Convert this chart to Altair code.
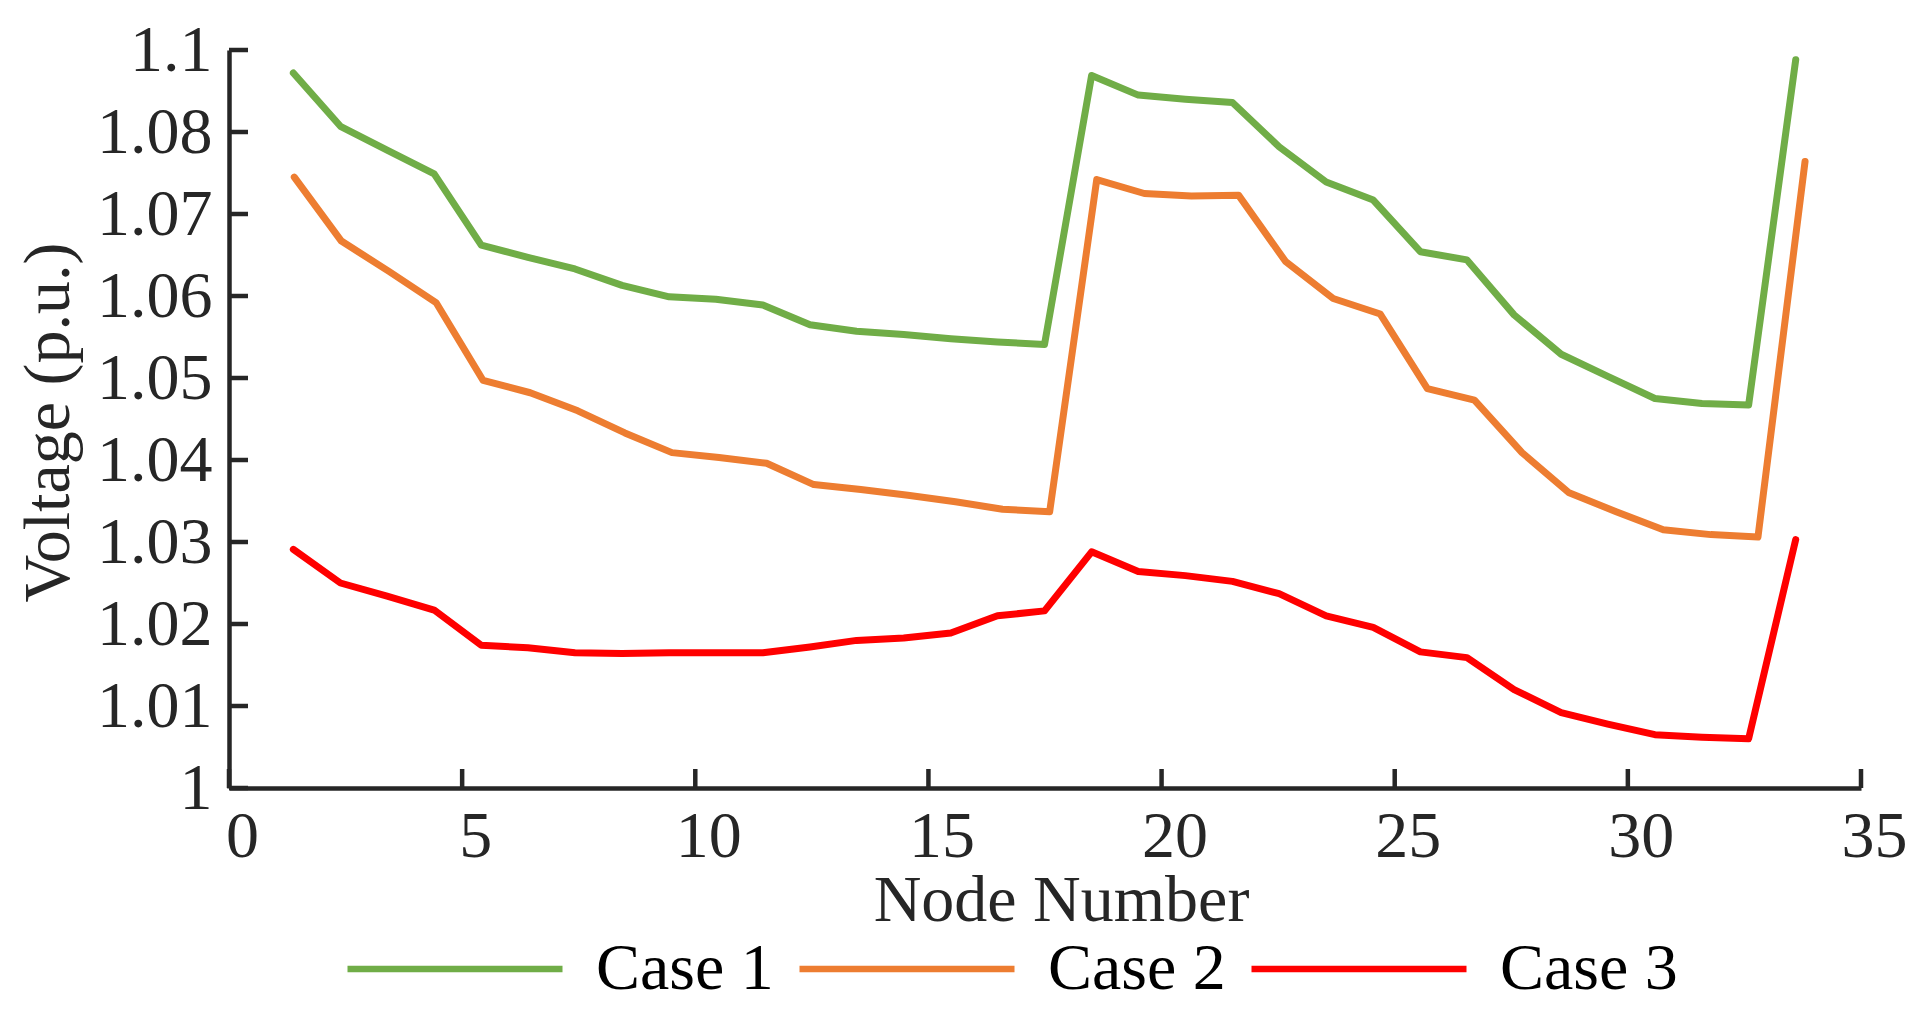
import altair as alt
import pandas as pd

# ---- data ----
cases = ["Case 1", "Case 2", "Case 3"]
colors = ["#70AD47", "#ED7D31", "#FF0000"]

# x positions of the plotted nodes (Case 1 and Case 3 share them)
x_case13 = [1.38, 2.39, 3.39, 4.40, 5.41, 6.41, 7.42, 8.43, 9.44, 10.44, 11.45,
            12.46, 13.46, 14.47, 15.48, 16.48, 17.49, 18.50, 19.50, 20.51, 21.52,
            22.52, 23.53, 24.54, 25.55, 26.55, 27.56, 28.57, 29.57, 30.58, 31.59,
            32.59, 33.60]
x_case2 = [1.40, 2.41, 3.43, 4.44, 5.45, 6.46, 7.48, 8.49, 9.50, 10.51, 11.53,
           12.54, 13.55, 14.56, 15.58, 16.59, 17.60, 18.61, 19.63, 20.64, 21.65,
           22.66, 23.68, 24.69, 25.70, 26.71, 27.73, 28.74, 29.75, 30.76, 31.78,
           32.79, 33.80]

v_case1 = [1.0872, 1.0807, 1.0778, 1.0749, 1.0662, 1.0647, 1.0633, 1.0613, 1.0599,
           1.0596, 1.0589, 1.0565, 1.0557, 1.0553, 1.0548, 1.0544, 1.0541, 1.0869,
           1.0845, 1.0840, 1.0836, 1.0782, 1.0739, 1.0717, 1.0654, 1.0644, 1.0577,
           1.0529, 1.0502, 1.0475, 1.0469, 1.0467, 1.0888]
v_case2 = [1.0745, 1.0667, 1.0630, 1.0592, 1.0497, 1.0482, 1.0460, 1.0433, 1.0409,
           1.0403, 1.0396, 1.0370, 1.0364, 1.0357, 1.0349, 1.0340, 1.0337, 1.0742,
           1.0725, 1.0722, 1.0723, 1.0642, 1.0597, 1.0578, 1.0487, 1.0473, 1.0409,
           1.0360, 1.0337, 1.0315, 1.0309, 1.0306, 1.0764]
v_case3 = [1.0291, 1.0250, 1.0234, 1.0217, 1.0174, 1.0171, 1.0165, 1.0164, 1.0165,
           1.0165, 1.0165, 1.0172, 1.0180, 1.0183, 1.0189, 1.0210, 1.0216, 1.0288,
           1.0264, 1.0259, 1.0252, 1.0237, 1.0210, 1.0196, 1.0166, 1.0159, 1.0120,
           1.0092, 1.0078, 1.0065, 1.0062, 1.0060, 1.0303]

x_ticks = [0, 5, 10, 15, 20, 25, 30, 35]
y_ticks = [1.00, 1.01, 1.02, 1.03, 1.04, 1.05, 1.06, 1.07, 1.08, 1.09]

rows = []
for case, xs, vs in [("Case 1", x_case13, v_case1), ("Case 2", x_case2, v_case2),
                     ("Case 3", x_case13, v_case3)]:
    for i, (xx, vv) in enumerate(zip(xs, vs)):
        rows.append({"case": case, "order": i, "x": xx, "v": vv})
df = pd.DataFrame(rows)
xt = pd.DataFrame({"t": x_ticks})
yt = pd.DataFrame({"t": y_ticks})

W, H = 1632, 738
AX = "#262626"
FONT = "Liberation Serif"
FS = 66

xscale = alt.Scale(domain=[0, 35], nice=False, zero=False)
yscale = alt.Scale(domain=[1.0, 1.09], nice=False, zero=False)

lines = alt.Chart(df).mark_line(strokeWidth=7, strokeCap="round", strokeJoin="round").encode(
    x=alt.X("x:Q", scale=xscale,
            axis=alt.Axis(values=x_ticks, title="Node Number", grid=False, ticks=False, tickSize=0,
                          labelPadding=16, labelOffset=13, labelBaseline="top",
                          domainColor=AX, domainWidth=4.5,
                          titleX=832, titleY=132, titleBaseline="alphabetic", titleAlign="center")),
    y=alt.Y("v:Q", scale=yscale,
            axis=alt.Axis(values=y_ticks, title="Voltage (p.u.)", grid=False, ticks=False, tickSize=0,
                          labelPadding=17, labelBaseline="middle", labelAlign="right",
                          labelExpr="datum.value > 1.085 ? '1.1' : (datum.value < 1.005 ? '1' : format(datum.value, '.2f'))",
                          domainColor=AX, domainWidth=4.5,
                          titleX=-161, titleY=372, titleAngle=270,
                          titleBaseline="alphabetic", titleAlign="center")),
    color=alt.Color("case:N", scale=alt.Scale(domain=cases, range=colors),
                    legend=alt.Legend(title=None, orient="none", direction="horizontal",
                                      legendX=115, legendY=808,
                                      symbolType="stroke", symbolSize=46225,
                                      symbolStrokeWidth=6.5, labelOffset=30,
                                      columnPadding=12, padding=0, labelLimit=400,
                                      labelFont=FONT, labelFontSize=FS, labelColor="#000000")),
    order="order:Q",
)

xticks = alt.Chart(xt).mark_rule(color=AX, strokeWidth=4.5).encode(
    x=alt.X("t:Q", scale=xscale), y=alt.value(H), y2=alt.value(H - 19))
yticks = alt.Chart(yt).mark_rule(color=AX, strokeWidth=4.5).encode(
    y=alt.Y("t:Q", scale=yscale), x=alt.value(0), x2=alt.value(19))

chart = alt.layer(lines, xticks, yticks).properties(
    width=W, height=H,
    autosize=alt.AutoSizeParams(type="none"),
    padding={"left": 221, "top": 42, "right": 52, "bottom": 220},
).configure_view(stroke=None).configure_axis(
    labelFont=FONT, labelFontSize=FS, labelColor="#262626",
    titleFont=FONT, titleFontSize=FS, titleColor="#262626", titleFontWeight="normal",
    labelFlush=False, labelOverlap=False,
)

chart.save("out.html", embed_options={"renderer": "svg", "actions": False})
